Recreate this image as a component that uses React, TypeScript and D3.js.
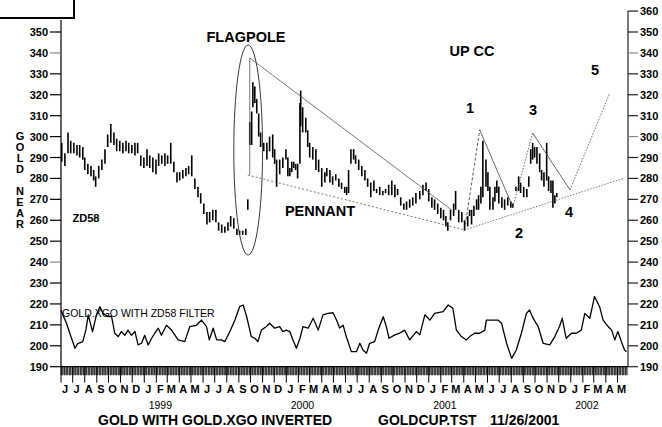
import React from "react";
import * as d3 from "d3";

const priceDates = ["1998-06-03","1998-06-11","1998-06-19","1998-06-26","1998-07-04","1998-07-12","1998-07-19","1998-07-27","1998-08-01","1998-08-09","1998-08-17","1998-08-24","1998-08-29","1998-09-06","1998-09-14","1998-09-22","1998-09-29","1998-10-07","1998-10-15","1998-10-22","1998-10-30","1998-11-07","1998-11-15","1998-11-22","1998-11-30","1998-12-08","1998-12-15","1998-12-23","1998-12-31","1999-01-08","1999-01-15","1999-01-23","1999-01-31","1999-02-07","1999-02-15","1999-02-23","1999-03-02","1999-03-10","1999-03-18","1999-03-26","1999-04-02","1999-04-10","1999-04-18","1999-04-25","1999-05-03","1999-05-11","1999-05-19","1999-05-26","1999-06-03","1999-06-11","1999-06-18","1999-06-26","1999-07-04","1999-07-11","1999-07-19","1999-07-27","1999-08-04","1999-08-11","1999-08-19","1999-08-27","1999-09-03","1999-09-11","1999-09-19","1999-09-24","1999-09-29","1999-10-04","1999-10-07","1999-10-12","1999-10-17","1999-10-22","1999-10-27","1999-11-04","1999-11-12","1999-11-19","1999-11-27","1999-12-02","1999-12-07","1999-12-15","1999-12-23","1999-12-31","2000-01-05","2000-01-10","2000-01-15","2000-01-20","2000-01-25","2000-01-30","2000-02-05","2000-02-07","2000-02-12","2000-02-20","2000-02-25","2000-03-01","2000-03-09","2000-03-17","2000-03-24","2000-04-01","2000-04-09","2000-04-14","2000-04-22","2000-04-29","2000-05-07","2000-05-15","2000-05-22","2000-05-30","2000-06-04","2000-06-09","2000-06-15","2000-06-22","2000-06-27","2000-07-05","2000-07-13","2000-07-21","2000-07-28","2000-08-05","2000-08-13","2000-08-20","2000-08-28","2000-09-05","2000-09-12","2000-09-20","2000-09-28","2000-10-06","2000-10-13","2000-10-21","2000-10-29","2000-11-05","2000-11-13","2000-11-21","2000-11-29","2000-12-09","2000-12-17","2000-12-25","2001-01-01","2001-01-09","2001-01-16","2001-01-24","2001-02-01","2001-02-08","2001-02-14","2001-02-19","2001-02-26","2001-03-06","2001-03-11","2001-03-19","2001-03-27","2001-04-03","2001-04-11","2001-04-16","2001-04-21","2001-04-27","2001-05-04","2001-05-09","2001-05-15","2001-05-20","2001-05-28","2001-06-02","2001-06-07","2001-06-15","2001-06-20","2001-06-25","2001-06-30","2001-07-08","2001-07-15","2001-07-23","2001-07-31","2001-08-05","2001-08-13","2001-08-20","2001-08-25","2001-09-02","2001-09-10","2001-09-15","2001-09-20","2001-09-25","2001-09-30","2001-10-06","2001-10-13","2001-10-18","2001-10-24","2001-10-31","2001-11-05","2001-11-11","2001-11-16","2001-11-21","2001-11-26"];
const priceHigh = [297,292,302,298,297,296,296,295,290,287,286,284,281,286,289,294,301,306,302,299,298,297,298,297,296,297,297,291,290,294,291,290,289,292,291,292,291,297,288,283,283,284,285,286,291,280,276,273,268,264,264,265,265,259,258,257,259,262,261,256,255,255,256,270,307,312,326,324,318,311,302,297,297,300,301,294,289,289,290,294,290,285,288,288,287,287,316,322,314,309,303,297,295,294,289,285,283,285,284,281,282,280,278,276,276,284,294,294,291,289,286,284,280,278,279,275,276,274,275,277,279,277,275,271,268,269,270,271,273,274,277,278,275,271,270,268,266,265,262,259,265,268,274,265,264,260,262,265,265,267,270,272,276,298,289,283,276,271,276,279,276,271,270,271,269,268,276,281,278,276,275,281,294,297,295,295,292,284,283,297,281,279,279,272,273];
const priceLow = [288,286,292,292,292,291,290,289,284,282,281,279,276,280,284,287,295,297,296,293,293,292,293,292,292,291,292,286,285,286,285,283,282,286,287,286,287,287,283,278,279,280,281,282,281,275,271,268,263,258,259,260,259,255,254,254,255,257,256,253,253,253,253,265,296,296,314,316,311,300,295,293,289,293,290,287,276,282,285,289,281,281,283,285,284,280,287,305,302,302,295,290,289,284,283,276,278,281,278,277,279,276,275,273,272,273,287,289,287,284,281,279,276,271,274,273,272,272,273,272,272,271,272,267,265,265,266,267,268,270,272,274,269,266,265,263,261,260,257,255,260,262,265,259,259,255,257,262,258,262,265,265,268,271,276,274,265,265,269,273,268,266,265,267,266,266,274,274,273,271,271,276,287,289,290,287,283,279,276,279,274,273,266,268,271];

const oscDates = ["1998-06-01","1998-06-15","1998-06-28","1998-07-07","1998-07-14","1998-07-27","1998-08-04","1998-08-10","1998-08-21","1998-08-31","1998-09-09","1998-09-17","1998-09-30","1998-10-09","1998-10-17","1998-10-26","1998-11-03","1998-11-12","1998-11-20","1998-11-29","1998-12-08","1998-12-16","1998-12-25","1999-01-02","1999-01-11","1999-01-20","1999-01-28","1999-02-06","1999-02-14","1999-02-27","1999-03-12","1999-03-29","1999-04-15","1999-04-28","1999-05-15","1999-05-28","1999-06-10","1999-06-17","1999-06-27","1999-07-06","1999-07-18","1999-07-27","1999-08-09","1999-08-22","1999-09-03","1999-09-12","1999-09-21","1999-10-03","1999-10-12","1999-10-20","1999-10-29","1999-11-11","1999-11-19","1999-12-02","1999-12-15","1999-12-23","2000-01-01","2000-01-10","2000-01-18","2000-01-27","2000-02-05","2000-02-13","2000-02-26","2000-03-10","2000-03-23","2000-04-04","2000-04-17","2000-04-30","2000-05-09","2000-05-17","2000-05-26","2000-06-03","2000-06-16","2000-06-29","2000-07-08","2000-07-16","2000-07-25","2000-08-02","2000-08-15","2000-08-24","2000-09-06","2000-09-14","2000-09-21","2000-10-06","2000-10-18","2000-10-31","2000-11-13","2000-11-30","2000-12-09","2000-12-22","2001-01-04","2001-01-16","2001-02-07","2001-02-20","2001-03-04","2001-03-13","2001-03-26","2001-04-08","2001-04-16","2001-04-29","2001-05-12","2001-05-25","2001-05-29","2001-06-07","2001-06-20","2001-06-28","2001-07-07","2001-07-20","2001-08-02","2001-08-14","2001-08-27","2001-09-09","2001-09-17","2001-09-26","2001-10-09","2001-10-22","2001-11-08","2001-11-21","2001-12-03","2001-12-10","2001-12-20","2002-01-03","2002-01-15","2002-01-28","2002-02-06","2002-02-19","2002-03-03","2002-03-16","2002-03-25","2002-04-07","2002-04-16","2002-04-24","2002-05-02","2002-05-11","2002-05-19","2002-05-24"];
const oscValues = [217,210.8,203.6,198.8,201,202,207.6,214.8,206.7,214.8,218.7,215.5,214,214,206,204.4,206.8,205,207.5,205,206.8,200.4,201.2,205,200.4,203.6,206,208.4,205,209.8,207.5,202.8,202,209.2,209.8,212.3,209.2,202.8,208.4,202.8,202.8,202,206.8,212.3,218.7,219.5,214,204.4,203.6,202,207.5,209.2,210.8,208.4,209.2,206.8,207.5,206.8,202.8,198.8,203.6,209.2,208.4,213.2,207.5,214.8,215.5,215.8,212.3,208.5,209.8,204.4,197.2,197.2,201.2,198,196.4,201.2,202,207.5,213.9,209.2,203.6,205.2,206,207.5,202.8,206.8,205.2,214.8,212.3,215.5,216.3,219.5,217.9,207.5,204.4,202.8,204.4,206,206,207.5,212.3,212.3,212.3,212.3,210.8,201.2,194,198,206,215.5,217.1,213.2,209.2,201.2,200.4,204.4,209.2,213.2,203.6,206,206,207.5,215.5,213.2,223.6,218.7,212.3,209.2,207.5,202.8,206.8,202,198,197.2];

const leftTicks = [190,200,210,220,230,240,250,260,270,280,290,300,310,320,330,340,350];
const rightTicks = [190,200,210,220,230,240,250,260,270,280,290,300,310,320,330,340,350,360];
const monthLetters = ["J","F","M","A","M","J","J","A","S","O","N","D"];
const yearLabels = ["1999","2000","2001","2002"];

// annotation anchor points (date, price)
const triTop = [["1999-09-29",337.6],["2001-03-01",264.9]];
const flagPole = [["1999-09-29",337.6],["1999-09-29",281.6]];
const triBottom = [["1999-09-24",281.6],["2001-04-03",255.4]];
const supportLine = [["2001-04-03",255.4],["2002-05-19",280.2]];
const wavePoints = [["2001-04-03",255.4],["2001-05-12",303.2],["2001-08-05",266.3],["2001-09-25",301.7],["2001-12-30",274.5],["2002-04-11",320.8]];
const ellipseBox = [["1999-08-19",343.8],["1999-11-01",243.4]];

const parse = d3.timeParse("%Y-%m-%d");
const FONT = "'Liberation Sans', Arial, Helvetica, sans-serif";

export default function App() {
  const x = d3.scaleTime().domain([parse("1998-06-01")!, parse("2002-05-28")!]).range([61, 628]);
  const y = d3.scaleLinear().domain([190, 350]).range([366.7, 32]);
  const axisY = 366.7;

  const days = d3.timeDay.range(parse("1998-06-01")!, parse("2002-05-28")!).filter(d => d.getDay() !== 0 && d.getDay() !== 6);
  const months = d3.timeMonth.range(parse("1998-06-01")!, parse("2002-05-28")!);
  const years = yearLabels.map(s => parse(s + "-02-01")!);

  const oscLine = d3.line<number>().x((_, i) => x(parse(oscDates[i])!)).y(v => y(v));
  const pt = (p: any) => [x(parse(p[0])!), y(p[1])];
  const seg = (a: any[], props: any, key: string) => {
    const [x1, y1] = pt(a[0]);
    const [x2, y2] = pt(a[1]);
    return <line key={key} x1={x1} y1={y1} x2={x2} y2={y2} {...props} />;
  };
  const waveStyles = [
    { stroke: "#333", strokeWidth: 0.8, strokeDasharray: "3,2" },
    { stroke: "#444", strokeWidth: 0.8 },
    { stroke: "#444", strokeWidth: 0.8, strokeDasharray: "1.5,1.5" },
    { stroke: "#444", strokeWidth: 0.8 },
    { stroke: "#444", strokeWidth: 0.8, strokeDasharray: "1.5,1.5" },
  ];
  const [ex1, ey1] = pt(ellipseBox[0]);
  const [ex2, ey2] = pt(ellipseBox[1]);

  return (
    <svg width={662} height={427} style={{ position: "absolute", left: 0, top: 0, background: "#fff" }} fontFamily={FONT}>
      <rect x={0} y={0} width={662} height={427} fill="#fff" />
      <rect x={-1} y={-1} width={75} height={19} fill="none" stroke="#000" strokeWidth={2} />

      {/* axes */}
      <line x1={61} y1={20} x2={61} y2={axisY} stroke="#000" strokeWidth={1.2} />
      <line x1={628} y1={11} x2={628} y2={axisY} stroke="#222" strokeWidth={1.2} />
      <line x1={61} y1={axisY} x2={628} y2={axisY} stroke="#000" strokeWidth={1.2} />
      {leftTicks.map(t => (
        <g key={"l" + t}>
          <line x1={50} x2={61} y1={y(t)} y2={y(t)} stroke={t === 340 || t === 240 ? "#888" : "#000"} strokeWidth={1.2} />
          <text x={48} y={y(t) + 4} textAnchor="end" fontSize={11} fontWeight="bold">{t}</text>
        </g>
      ))}
      {rightTicks.map(t => (
        <g key={"r" + t}>
          <line x1={628} x2={638} y1={y(t)} y2={y(t)} stroke={t === 340 || t === 300 ? "#888" : "#222"} strokeWidth={1.2} />
          <text x={640} y={y(t) + 4} textAnchor="start" fontSize={11} fontWeight="bold">{t}</text>
        </g>
      ))}

      {/* x axis ticks */}
      {days.map((d, i) => (
        <line key={"d" + i} x1={x(d)} x2={x(d)} y1={axisY} y2={axisY + 8.5} stroke="#000" strokeWidth={0.5} />
      ))}
      {months.map((d, i) => (
        <g key={"m" + i}>
          <line x1={x(d)} x2={x(d)} y1={axisY} y2={axisY + 16} stroke="#000" strokeWidth={1} />
          <text x={x(d) + 4} y={393} textAnchor="middle" fontSize={11} fontWeight="bold">{monthLetters[d.getMonth()]}</text>
        </g>
      ))}
      {years.map((d, i) => (
        <text key={"y" + i} x={x(d) + 4} y={409} textAnchor="middle" fontSize={10.5}>{yearLabels[i]}</text>
      ))}

      {/* price bars */}
      {priceDates.map((s, i) => {
        const xx = x(parse(s)!);
        return <line key={"p" + i} x1={xx} x2={xx} y1={y(priceHigh[i])} y2={y(priceLow[i])} stroke="#000" strokeWidth={1.6} />;
      })}

      {/* oscillator */}
      <path d={oscLine(oscValues) || ""} fill="none" stroke="#000" strokeWidth={1.3} strokeLinejoin="round" />

      {/* annotations */}
      <ellipse cx={(ex1 + ex2) / 2} cy={(ey1 + ey2) / 2} rx={(ex2 - ex1) / 2} ry={(ey2 - ey1) / 2} fill="none" stroke="#222" strokeWidth={0.9} />
      {seg(triTop, { stroke: "#555", strokeWidth: 0.8 }, "tt")}
      {seg(flagPole, { stroke: "#555", strokeWidth: 0.8 }, "fp")}
      {seg(triBottom, { stroke: "#555", strokeWidth: 0.8, strokeDasharray: "2,2" }, "tb")}
      {seg(supportLine, { stroke: "#555", strokeWidth: 0.8, strokeDasharray: "1.5,1.5" }, "sl")}
      {wavePoints.slice(0, -1).map((p, i) => seg([p, wavePoints[i + 1]], waveStyles[i], "w" + i))}

      {/* texts */}
      <g fontWeight="bold" fontSize={14.5}>
        <text x={246} y={42} textAnchor="middle">FLAGPOLE</text>
        <text x={472} y={56} textAnchor="middle">UP CC</text>
        <text x={320} y={216} textAnchor="middle">PENNANT</text>
        <text x={470} y={113} textAnchor="middle">1</text>
        <text x={519} y={238} textAnchor="middle">2</text>
        <text x={533} y={115} textAnchor="middle">3</text>
        <text x={569} y={217} textAnchor="middle">4</text>
        <text x={595} y={75} textAnchor="middle">5</text>
      </g>
      <text x={86} y={222} textAnchor="middle" fontSize={11} fontWeight="bold">ZD58</text>
      <text x={62} y={317} fontSize={10.5}>GOLD.XGO WITH ZD58 FILTER</text>
      {"GOLD".split("").map((c, i) => (
        <text key={"g" + i} x={20} y={140 + i * 11} textAnchor="middle" fontSize={11} fontWeight="bold">{c}</text>
      ))}
      {"NEAR".split("").map((c, i) => (
        <text key={"n" + i} x={20} y={195 + i * 11} textAnchor="middle" fontSize={11} fontWeight="bold">{c}</text>
      ))}
      <g fontWeight="bold" fontSize={14}>
        <text x={98} y={425}>GOLD WITH GOLD.XGO INVERTED</text>
        <text x={378} y={425}>GOLDCUP.TST</text>
        <text x={490} y={425}>11/26/2001</text>
      </g>
    </svg>
  );
}
